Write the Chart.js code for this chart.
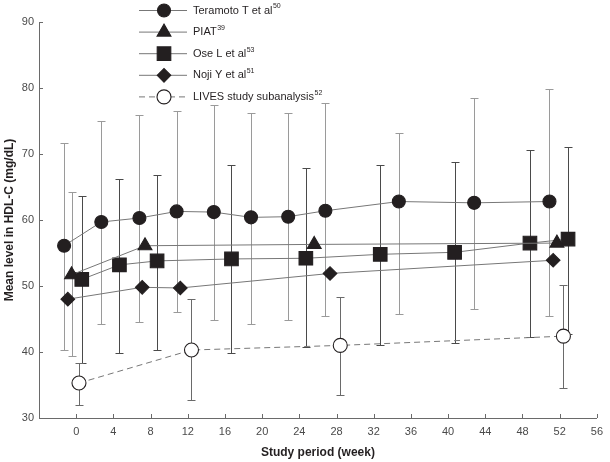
<!DOCTYPE html>
<html><head><meta charset="utf-8">
<script src="https://cdn.jsdelivr.net/npm/chart.js@4.4.1/dist/chart.umd.min.js"></script>
<style>html,body{margin:0;padding:0;background:#fff}</style>
</head><body>
<canvas id="c" width="610" height="462"></canvas>
<script>
// ---- tick labels ----
const xTicks = [0, 4, 8, 12, 16, 20, 24, 28, 32, 36, 40, 44, 48, 52, 56];
const yTicks = [30, 40, 50, 60, 70, 80, 90];

// ---- series names ----
const seriesNames = ['Teramoto T et al', 'PIAT', 'Ose L et al', 'Noji Y et al', 'LIVES study subanalysis'];
const seriesRefs = ['50', '39', '53', '51', '52'];

// ---- Teramoto T et al ----
const teramotoWeeks = [-1.3, 2.7, 6.8, 10.8, 14.8, 18.8, 22.8, 26.8, 34.7, 42.8, 50.9];
const teramotoMean  = [56.1, 59.7, 60.3, 61.3, 61.2, 60.4, 60.5, 61.4, 62.8, 62.6, 62.8];
const teramotoHi    = [71.7, 75.0, 75.9, 76.5, 77.4, 76.2, 76.2, 77.8, 73.2, 78.5, 79.9];
const teramotoLo    = [40.3, 44.3, 44.5, 46.0, 44.9, 44.3, 44.8, 45.5, 45.7, 46.5, 45.4];

// ---- PIAT ----
const piatWeeks = [-0.5, 7.4, 25.6, 51.7];
const piatMean  = [51.7, 56.1, 56.3, 56.5];
const piatHi    = [64.3, null, null, null];
const piatLo    = [39.4, null, null, null];

// ---- Ose L et al ----
const oseWeeks = [0.6, 4.65, 8.7, 16.7, 24.7, 32.7, 40.7, 48.8, 52.9];
const oseMean  = [51.0, 53.2, 53.8, 54.1, 54.2, 54.8, 55.1, 56.5, 57.1];
const oseHi    = [63.6, 66.2, 66.8, 68.3, 67.9, 68.3, 68.8, 70.6, 71.1];
const oseLo    = [38.3, 39.8, 40.3, 39.9, 40.7, 41.1, 41.4, 42.3, 42.8];

// ---- Noji Y et al ----
const nojiWeeks = [-0.9, 7.1, 11.2, 27.3, 51.3];
const nojiMean  = [48.0, 49.8, 49.7, 51.9, 53.9];

// ---- LIVES study subanalysis ----
const livesWeeks = [0.3, 12.4, 28.4, 52.4];
const livesMean  = [35.3, 40.3, 41.0, 42.4];
const livesHi    = [38.3, 48.0, 48.4, 50.2];
const livesLo    = [32.0, 32.7, 33.5, 34.6];

const pts = (xs, ys) => xs.map((x, i) => ({x: x, y: ys[i]}));
const INK = '#231f20';
const FONT = '"Liberation Sans", Arial, sans-serif';

const styles = [
  {pointStyle: 'circle',   radius: 6.5, fill: INK,    line: '#777777', dash: [],     err: '#9a9a9a'},
  {pointStyle: 'triangle', radius: 8,   fill: INK,    line: '#777777', dash: [],     err: '#9a9a9a'},
  {pointStyle: 'rect',     radius: 9.6, fill: INK,    line: '#777777', dash: [],     err: '#4a4a4a'},
  {pointStyle: 'rectRot',  radius: 6.8, fill: INK,    line: '#777777', dash: [],     err: '#9a9a9a'},
  {pointStyle: 'circle',   radius: 7,   fill: '#fff', line: '#777777', dash: [6, 4], err: '#6a6a6a'}
];

const seriesData = [
  pts(teramotoWeeks, teramotoMean),
  pts(piatWeeks, piatMean),
  pts(oseWeeks, oseMean),
  pts(nojiWeeks, nojiMean),
  pts(livesWeeks, livesMean)
];
const errorSets = [
  {weeks: teramotoWeeks, lo: teramotoLo, hi: teramotoHi, style: 0},
  {weeks: piatWeeks, lo: piatLo, hi: piatHi, style: 1},
  {weeks: oseWeeks, lo: oseLo, hi: oseHi, style: 2},
  {weeks: livesWeeks, lo: livesLo, hi: livesHi, style: 4}
];

const datasets = seriesData.map((d, i) => ({
  label: seriesNames[i],
  data: d,
  showLine: true,
  tension: 0,
  borderColor: styles[i].line,
  borderWidth: 1,
  borderDash: styles[i].dash,
  pointStyle: styles[i].pointStyle,
  pointRadius: styles[i].radius,
  pointHoverRadius: styles[i].radius,
  pointBackgroundColor: styles[i].fill,
  pointBorderColor: INK,
  pointBorderWidth: 1.1
}));

const crisp = v => Math.round(v) + 0.5;

const errorBarPlugin = {
  id: 'errorBars',
  beforeDatasetsDraw(chart) {
    const ctx = chart.ctx, xs = chart.scales.x, ys = chart.scales.y;
    ctx.save();
    ctx.lineWidth = 1;
    errorSets.forEach(es => {
      ctx.strokeStyle = styles[es.style].err;
      es.weeks.forEach((w, i) => {
        if (es.lo[i] == null || es.hi[i] == null) return;
        const px = crisp(xs.getPixelForValue(w));
        const pLo = crisp(ys.getPixelForValue(es.lo[i]));
        const pHi = crisp(ys.getPixelForValue(es.hi[i]));
        ctx.beginPath();
        ctx.moveTo(px, pLo); ctx.lineTo(px, pHi);
        ctx.moveTo(px - 4, pLo); ctx.lineTo(px + 4, pLo);
        ctx.moveTo(px - 4, pHi); ctx.lineTo(px + 4, pHi);
        ctx.stroke();
      });
    });
    ctx.restore();
  }
};

const innerTicksPlugin = {
  id: 'innerTicks',
  beforeDatasetsDraw(chart) {
    const ctx = chart.ctx, xs = chart.scales.x, ys = chart.scales.y, a = chart.chartArea;
    ctx.save();
    ctx.strokeStyle = '#6a6a6a';
    ctx.lineWidth = 1;
    ctx.beginPath();
    xTicks.forEach(v => {
      const px = crisp(xs.getPixelForValue(v));
      ctx.moveTo(px, Math.round(a.bottom)); ctx.lineTo(px, Math.round(a.bottom) - 4);
    });
    yTicks.forEach(v => {
      const py = crisp(ys.getPixelForValue(v));
      ctx.moveTo(Math.round(a.left), py); ctx.lineTo(Math.round(a.left) + 4, py);
    });
    ctx.stroke();
    ctx.restore();
  }
};

function marker(ctx, style, r, x, y) {
  ctx.beginPath();
  if (style === 'circle') {
    ctx.arc(x, y, r, 0, Math.PI * 2);
  } else if (style === 'triangle') {
    let rad = 0;
    ctx.moveTo(x + Math.sin(rad) * r, y - Math.cos(rad) * r);
    rad += 2 * Math.PI / 3;
    ctx.lineTo(x + Math.sin(rad) * r, y - Math.cos(rad) * r);
    rad += 2 * Math.PI / 3;
    ctx.lineTo(x + Math.sin(rad) * r, y - Math.cos(rad) * r);
    ctx.closePath();
  } else if (style === 'rect') {
    const s = Math.SQRT1_2 * r;
    ctx.rect(x - s, y - s, 2 * s, 2 * s);
  } else if (style === 'rectRot') {
    ctx.moveTo(x - r, y); ctx.lineTo(x, y - r); ctx.lineTo(x + r, y); ctx.lineTo(x, y + r);
    ctx.closePath();
  }
  ctx.fill();
  ctx.stroke();
}

const legendPlugin = {
  id: 'customLegend',
  afterDraw(chart) {
    const ctx = chart.ctx;
    const x0 = 139, x1 = 187, xm = 164, xt = 193;
    seriesNames.forEach((name, i) => {
      const st = styles[i];
      const y = 10.5 + i * 21.6;
      ctx.save();
      ctx.strokeStyle = st.line;
      ctx.lineWidth = 1;
      ctx.setLineDash(st.dash);
      ctx.beginPath(); ctx.moveTo(x0, y); ctx.lineTo(x1, y); ctx.stroke();
      ctx.setLineDash([]);
      ctx.fillStyle = st.fill;
      ctx.strokeStyle = INK;
      ctx.lineWidth = 1.1;
      marker(ctx, st.pointStyle, st.radius, xm, y);
      ctx.fillStyle = INK;
      ctx.textBaseline = 'middle';
      ctx.textAlign = 'left';
      ctx.font = '11px ' + FONT;
      ctx.fillText(name, xt, y);
      const w = ctx.measureText(name).width;
      ctx.font = '7px ' + FONT;
      ctx.fillText(seriesRefs[i], xt + w + 0.5, y - 4);
      ctx.restore();
    });
  }
};

new Chart(document.getElementById('c'), {
  type: 'scatter',
  data: {datasets: datasets},
  options: {
    responsive: false,
    animation: false,
    events: [],
    layout: {padding: {left: 0, right: 9, top: 22, bottom: 0}},
    plugins: {legend: {display: false}, tooltip: {enabled: false}},
    scales: {
      x: {
        type: 'linear',
        min: -4, max: 56,
        afterFit: s => { s.height = 44; },
        afterBuildTicks: s => { s.ticks = xTicks.map(v => ({value: v})); },
        grid: {display: false, drawTicks: false},
        border: {display: true, color: '#6a6a6a', width: 1},
        ticks: {padding: 7, color: '#4a4a4a', font: {size: 11, family: FONT}, maxRotation: 0, autoSkip: false},
        title: {display: true, text: 'Study period (week)', color: INK,
                font: {size: 12, weight: 'bold', family: FONT}, padding: {top: 0, bottom: 2}}
      },
      y: {
        type: 'linear',
        min: 30, max: 90,
        afterFit: s => { s.width = 39; },
        afterBuildTicks: s => { s.ticks = yTicks.map(v => ({value: v})); },
        grid: {display: false, drawTicks: false},
        border: {display: true, color: '#6a6a6a', width: 1},
        ticks: {padding: 5, color: '#4a4a4a', font: {size: 11, family: FONT}},
        title: {display: true, text: 'Mean level in HDL-C (mg/dL)', color: INK,
                font: {size: 12, weight: 'bold', family: FONT}, padding: {top: 2, bottom: 0}}
      }
    }
  },
  plugins: [innerTicksPlugin, errorBarPlugin, legendPlugin]
});
</script>
</body></html>
